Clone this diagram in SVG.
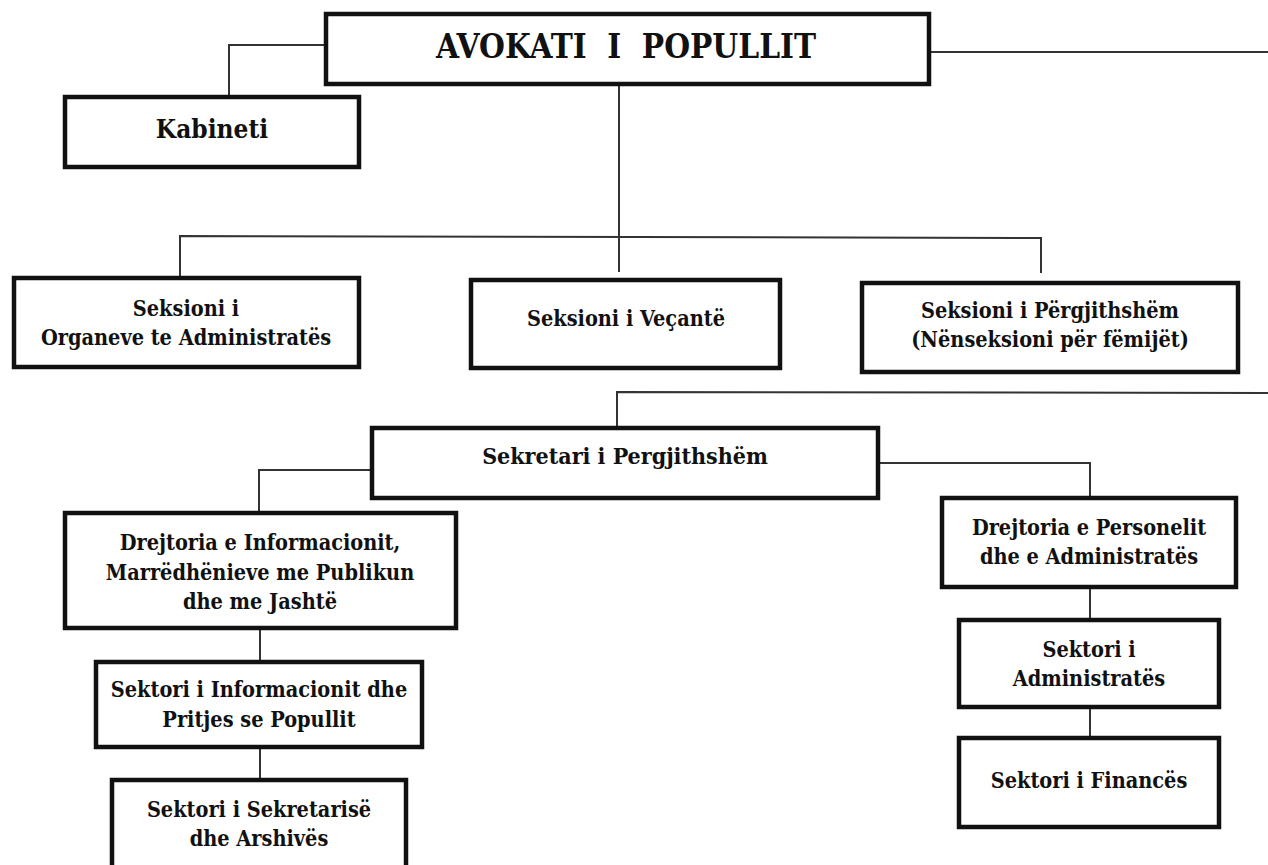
<svg xmlns="http://www.w3.org/2000/svg" width="1268" height="865" viewBox="0 0 1268 865">
<style>
.box{fill:#fff;stroke:#111;stroke-width:4.5}
.ln{fill:none;stroke:#333;stroke-width:2}
text{font-family:"DejaVu Serif Condensed","DejaVu Serif","Liberation Serif",serif;font-stretch:condensed;font-weight:bold;fill:#111;text-anchor:middle;font-size:21.5px}
.big{font-size:33px}
.kab{font-size:26px}
.sek{font-size:23px}
</style>
<rect width="1268" height="865" fill="#fff"/>
<g id="connectors">
<polyline class="ln" points="326,45 229,45 229,97"/>
<line class="ln" x1="929" y1="52" x2="1268" y2="52"/>
<line class="ln" x1="619" y1="84" x2="619" y2="272"/>
<polyline class="ln" points="180,278 180,236 1041,238 1041,273"/>
<polyline class="ln" points="1268,393 617,392 617,428"/>
<polyline class="ln" points="372,470 259,470 259,513"/>
<polyline class="ln" points="878,463 1090,463 1090,498"/>
<line class="ln" x1="260" y1="628" x2="260" y2="662"/>
<line class="ln" x1="260" y1="747" x2="260" y2="780"/>
<line class="ln" x1="1090" y1="587" x2="1090" y2="620"/>
<line class="ln" x1="1090" y1="707" x2="1090" y2="738"/>
</g>
<g id="avokati">
<rect class="box" x="326" y="14" width="603" height="70"/>
<text class="big" x="626" y="58" xml:space="preserve">AVOKATI  I  POPULLIT</text>
</g>
<g id="kabineti">
<rect class="box" x="65" y="97" width="294" height="70"/>
<text class="kab" x="212" y="138">Kabineti</text>
</g>
<g id="organeve">
<rect class="box" x="14" y="278" width="345" height="89"/>
<text x="186" y="316">Seksioni i</text>
<text x="186" y="345">Organeve te Administratës</text>
</g>
<g id="vecante">
<rect class="box" x="471" y="280" width="309" height="88"/>
<text x="626" y="326">Seksioni i Veçantë</text>
</g>
<g id="pergjithshem">
<rect class="box" x="862" y="283" width="376" height="89"/>
<text x="1050" y="318">Seksioni i Përgjithshëm</text>
<text x="1050" y="347">(Nënseksioni për fëmijët)</text>
</g>
<g id="sekretari">
<rect class="box" x="372" y="428" width="506" height="70"/>
<text class="sek" x="625" y="464">Sekretari i Pergjithshëm</text>
</g>
<g id="drejtoria-info">
<rect class="box" x="65" y="513" width="391" height="115"/>
<text x="260" y="550">Drejtoria e Informacionit,</text>
<text x="260" y="580">Marrëdhënieve me Publikun</text>
<text x="260" y="609">dhe me Jashtë</text>
</g>
<g id="sektori-info">
<rect class="box" x="96" y="662" width="326" height="85"/>
<text x="259" y="697">Sektori i Informacionit dhe</text>
<text x="259" y="727">Pritjes se Popullit</text>
</g>
<g id="sektori-sekretarise">
<rect class="box" x="112" y="780" width="294" height="100"/>
<text x="259" y="817">Sektori i Sekretarisë</text>
<text x="259" y="846">dhe Arshivës</text>
</g>
<g id="drejtoria-personelit">
<rect class="box" x="942" y="498" width="294" height="89"/>
<text x="1089" y="535">Drejtoria e Personelit</text>
<text x="1089" y="564">dhe e Administratës</text>
</g>
<g id="sektori-administrates">
<rect class="box" x="959" y="620" width="260" height="87"/>
<text x="1089" y="657">Sektori i</text>
<text x="1089" y="686">Administratës</text>
</g>
<g id="sektori-finances">
<rect class="box" x="959" y="738" width="260" height="89"/>
<text x="1089" y="788">Sektori i Financës</text>
</g>
</svg>
